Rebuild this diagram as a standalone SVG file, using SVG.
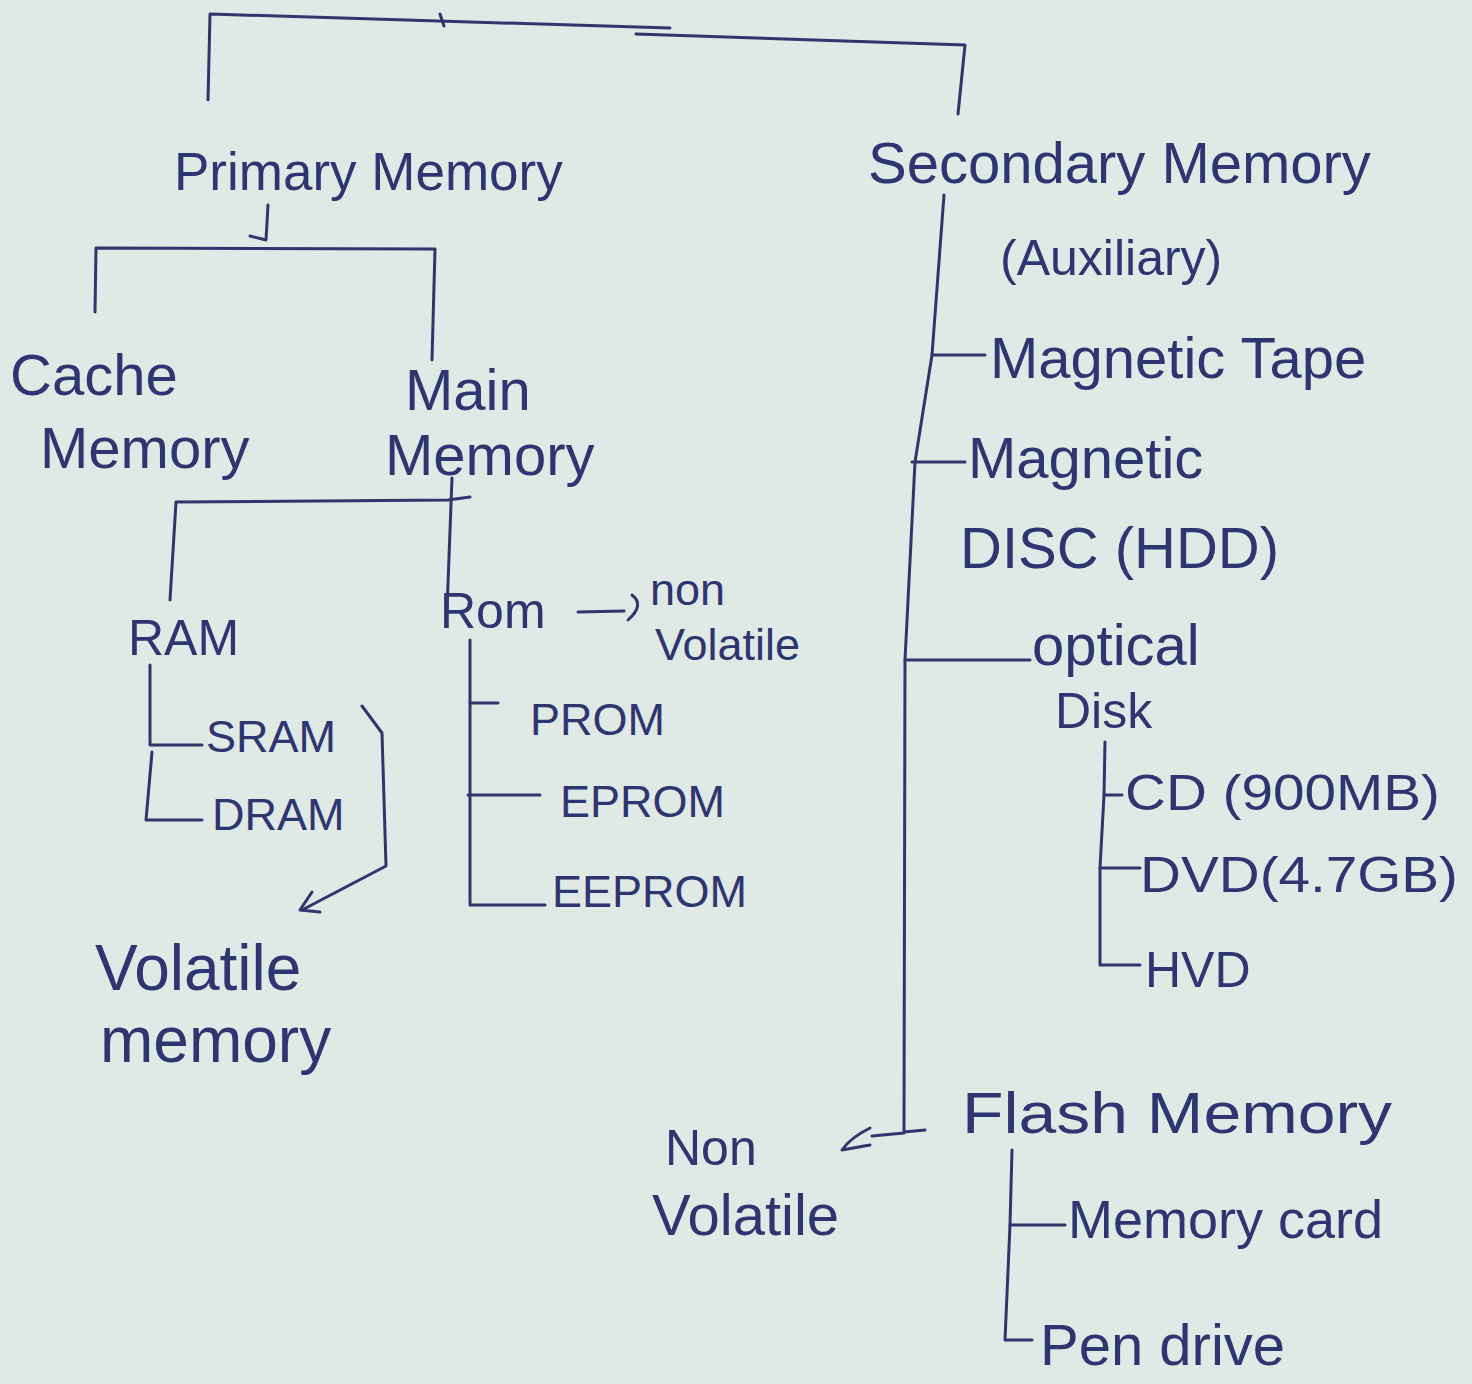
<svg xmlns="http://www.w3.org/2000/svg" width="1472" height="1384" viewBox="0 0 1472 1384">
  <defs>
    <style>
      .ink { fill: none; stroke: #30366c; stroke-width: 3; stroke-linecap: round; stroke-linejoin: round; }
      .lbl { font-family: "Liberation Sans", "DejaVu Sans", sans-serif; fill: #2f3570; font-size: 50px; }
      .big { font-size: 58px; }
      .sm { font-size: 45px; }
    </style>
  </defs>

  <!-- paper -->
  <rect width="1472" height="1384" fill="#dfe9e5"/>

  <!-- connectors -->
  <g id="connectors" class="ink">
    <!-- top split into primary / secondary -->
    <path d="M208,100 L210,14 L670,28"/>
    <path d="M440,14 L444,26"/>
    <path d="M636,34 L965,45 L958,114"/>
    <!-- primary memory to cache / main -->
    <path d="M268,205 L266,240 L250,236"/>
    <path d="M95,312 L96,248 L435,249 L432,360"/>
    <!-- main memory to RAM / ROM -->
    <path d="M170,600 L176,502 L448,500 L470,497"/>
    <path d="M452,478 L447,610"/>
    <!-- RAM subtree -->
    <path d="M150,665 L150,745 L202,745"/>
    <path d="M152,752 L146,820 L202,820"/>
    <!-- volatile brace with arrow -->
    <path d="M362,706 L382,733 L386,866 L302,910"/>
    <path d="M312,892 L300,910 L320,912"/>
    <!-- ROM to non volatile -->
    <path d="M578,612 L624,611"/>
    <path d="M632,595 Q645,605 628,620"/>
    <!-- ROM subtree -->
    <path d="M470,640 L470,905 L545,905"/>
    <path d="M470,703 L498,703"/>
    <path d="M468,795 L540,795"/>
    <!-- secondary memory spine -->
    <path d="M944,195 L932,355 L915,462 L905,660 L904,1132 L925,1130"/>
    <path d="M932,355 L985,355"/>
    <path d="M912,462 L965,462"/>
    <path d="M905,660 L1030,660"/>
    <!-- optical disk subtree -->
    <path d="M1105,742 L1104,795 L1122,795"/>
    <path d="M1104,795 L1100,868 L1140,868"/>
    <path d="M1100,868 L1100,965 L1140,965"/>
    <!-- flash to non volatile -->
    <path d="M904,1133 L872,1136"/>
    <path d="M870,1128 Q850,1138 842,1150 L870,1145"/>
    <!-- flash subtree -->
    <path d="M1012,1150 L1010,1225 L1065,1225"/>
    <path d="M1010,1225 L1005,1340 L1032,1340"/>
  </g>

  <g id="primary-memory"><text class="lbl" x="174" y="190" style="font-size:53px">Primary Memory</text></g>
  <g id="secondary-memory">
    <text class="lbl big" x="868" y="183">Secondary Memory</text>
    <text class="lbl" x="1000" y="275">(Auxiliary)</text>
  </g>
  <g id="cache-memory">
    <text class="lbl big" x="10" y="395">Cache</text>
    <text class="lbl big" x="40" y="468">Memory</text>
  </g>
  <g id="main-memory">
    <text class="lbl big" x="405" y="410">Main</text>
    <text class="lbl big" x="385" y="475">Memory</text>
  </g>
  <g id="ram"><text class="lbl" x="128" y="655">RAM</text></g>
  <g id="sram"><text class="lbl sm" x="206" y="752">SRAM</text></g>
  <g id="dram"><text class="lbl sm" x="212" y="830">DRAM</text></g>
  <g id="volatile-memory">
    <text class="lbl" x="95" y="990" style="font-size:64px">Volatile</text>
    <text class="lbl" x="100" y="1062" style="font-size:64px">memory</text>
  </g>
  <g id="rom"><text class="lbl" x="440" y="628">Rom</text></g>
  <g id="rom-non-volatile">
    <text class="lbl sm" x="650" y="605">non</text>
    <text class="lbl sm" x="655" y="660">Volatile</text>
  </g>
  <g id="prom"><text class="lbl sm" x="530" y="735">PROM</text></g>
  <g id="eprom"><text class="lbl sm" x="560" y="817">EPROM</text></g>
  <g id="eeprom"><text class="lbl sm" x="552" y="907">EEPROM</text></g>
  <g id="magnetic-tape"><text class="lbl big" x="990" y="378">Magnetic Tape</text></g>
  <g id="magnetic-disc">
    <text class="lbl big" x="968" y="478">Magnetic</text>
    <text class="lbl big" x="960" y="568">DISC (HDD)</text>
  </g>
  <g id="optical-disk">
    <text class="lbl big" x="1032" y="665">optical</text>
    <text class="lbl" x="1055" y="728">Disk</text>
  </g>
  <g id="cd"><text class="lbl" x="1125" y="810" textLength="315" lengthAdjust="spacingAndGlyphs">CD (900MB)</text></g>
  <g id="dvd"><text class="lbl" x="1140" y="892" textLength="318" lengthAdjust="spacingAndGlyphs">DVD(4.7GB)</text></g>
  <g id="hvd"><text class="lbl" x="1145" y="987">HVD</text></g>
  <g id="flash-memory"><text class="lbl big" x="962" y="1133" textLength="430" lengthAdjust="spacingAndGlyphs">Flash Memory</text></g>
  <g id="flash-non-volatile">
    <text class="lbl" x="665" y="1165">Non</text>
    <text class="lbl big" x="652" y="1235">Volatile</text>
  </g>
  <g id="memory-card"><text class="lbl" x="1068" y="1238" style="font-size:54px">Memory card</text></g>
  <g id="pen-drive"><text class="lbl big" x="1040" y="1365">Pen drive</text></g>
</svg>
